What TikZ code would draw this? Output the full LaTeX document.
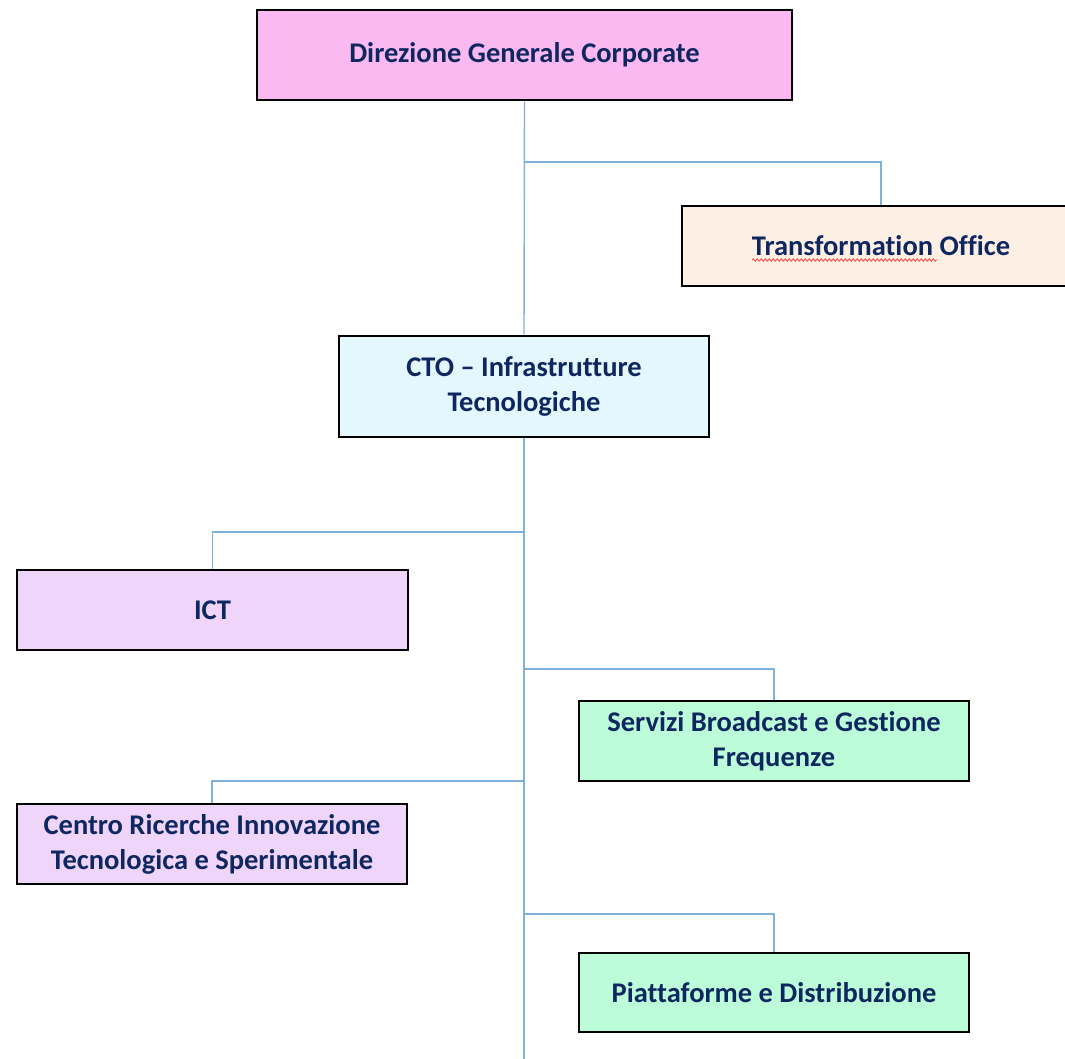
\documentclass[tikz,border=0pt]{standalone}
\usepackage{fontspec}
\setmainfont{Carlito}[Ligatures=NoCommon]
\usetikzlibrary{decorations.pathmorphing}
\definecolor{txtnavy}{HTML}{0F2760}
\definecolor{linkblue}{HTML}{7EB0E0}
\definecolor{fpink}{HTML}{FBB9F1}
\definecolor{fpeach}{HTML}{FDEFE4}
\definecolor{fcyan}{HTML}{E3F7FD}
\definecolor{flilac}{HTML}{F0D5FB}
\definecolor{fmint}{HTML}{BDFCD8}
\begin{document}
\begin{tikzpicture}[x=1pt,y=-1pt,
  unit/.style={draw=black, line width=2.8pt, align=center, inner sep=4pt,
    text=txtnavy, font=\fontsize{28.5}{35}\selectfont\bfseries},
  link/.style={draw=linkblue, line width=1.4pt}]
\useasboundingbox (0,0) rectangle (1065,1059);

% units
\node[unit, fill=fpink,  minimum width=535, minimum height=90]  (dgc)  at (524.5,55)  {Direzione Generale Corporate};
\node[unit, fill=fpeach, minimum width=398, minimum height=80]  (tro)  at (881,246)   {Transformation Office};
\node[unit, fill=fcyan,  minimum width=370, minimum height=101] (cto)  at (524,386.5) {CTO -- Infrastrutture\\Tecnologiche};
\node[unit, fill=flilac, minimum width=391, minimum height=80]  (ict)  at (212.5,610) {ICT};
\node[unit, fill=fmint,  minimum width=390, minimum height=80]  (sbg)  at (774,741)   {Servizi Broadcast e Gestione\\Frequenze};
\node[unit, fill=flilac, minimum width=390, minimum height=80]  (cri)  at (212,844)   {Centro Ricerche Innovazione\\Tecnologica e Sperimentale};
\node[unit, fill=fmint,  minimum width=390, minimum height=79]  (pdi)  at (774,992.5) {Piattaforme e Distribuzione};

% spell-check underline
\draw[red!75!white, line width=0.8pt, decoration={snake, amplitude=1.2pt, segment length=4pt}, decorate]
  (752,260) -- (937,260);

% junction points on the trunk
\coordinate (j1) at (524,162);
\coordinate (j2) at (524,532);
\coordinate (j3) at (524,669);
\coordinate (j4) at (524,781);
\coordinate (j5) at (524,914);
\coordinate (tail) at (524,1059);

% connectors
\draw[link] (dgc.south) -- (cto.north);
\draw[link] (cto.south) -- (tail);
\draw[link] (j1) -| (tro.north);
\draw[link] (j2) -| (ict.north);
\draw[link] (j3) -| (sbg.north);
\draw[link] (j4) -| (cri.north);
\draw[link] (j5) -| (pdi.north);
\end{tikzpicture}
\end{document}
